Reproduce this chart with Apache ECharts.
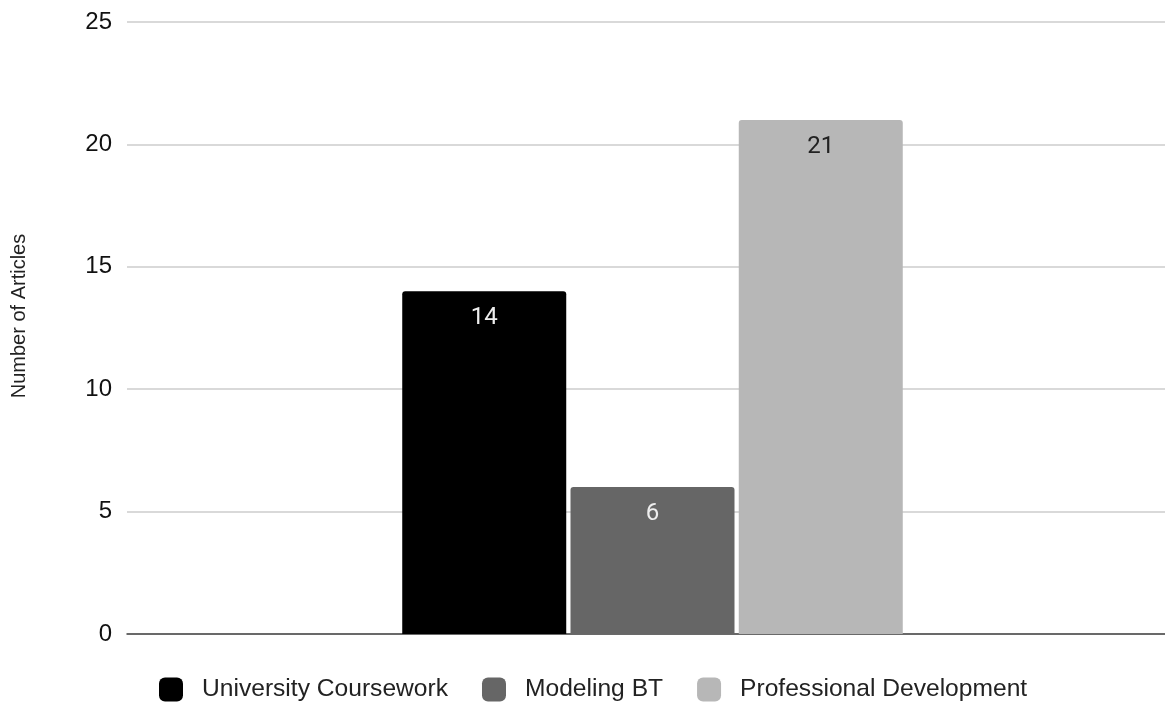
<!DOCTYPE html>
<html><head><meta charset="utf-8">
<script src="https://cdn.jsdelivr.net/npm/echarts@6/dist/echarts.min.js"></script>
<style>html,body{margin:0;padding:0;background:#fff}#c{width:1165px;height:702px}</style>
</head><body><div id="c"></div>
<script>
const categories = [''];
const seriesNames = ['University Coursework', 'Modeling BT', 'Professional Development'];
const seriesValues = [[14], [6], [21]];
const seriesColors = ['#000000', '#666666', '#b7b7b7'];
const labelColors = ['#eeeeee', '#eeeeee', '#222222'];
const yTicks = { min: 0, max: 25, interval: 5 };

const chart = echarts.init(document.getElementById('c'), null, { renderer: 'canvas' });
chart.setOption({
  animation: false,
  backgroundColor: '#fff',
  grid: { left: 127, width: 1051, top: 22, bottom: 68, containLabel: false, outerBoundsMode: 'none' },
  legend: {
    top: 672, left: 154,
    itemWidth: 24, itemHeight: 24, itemGap: 34,
    icon: 'roundRect',
    textStyle: { fontFamily: 'Liberation Sans, Arial', fontSize: 24.6, color: '#222', padding: [0, 0, 0, 14] },
    data: seriesNames
  },
  xAxis: {
    type: 'category', data: categories,
    axisLine: { lineStyle: { color: '#444', width: 1.5 } },
    axisTick: { show: false }, axisLabel: { show: false }
  },
  yAxis: {
    type: 'value', min: yTicks.min, max: yTicks.max, interval: yTicks.interval,
    name: 'Number of Articles', nameLocation: 'middle', nameGap: 98, nameRotate: 90,
    nameTextStyle: { fontFamily: 'Liberation Sans, Arial', fontSize: 20, color: '#222', padding: [0, 0, 0, 24] },
    axisLabel: { fontFamily: 'Liberation Sans, Arial', fontSize: 24, color: '#111', margin: 15 },
    splitLine: { lineStyle: { color: '#cccccc', width: 1.5 } },
    axisLine: { show: false }, axisTick: { show: false }
  },
  series: seriesNames.map((n, i) => ({
    name: n, type: 'bar', data: seriesValues[i],
    barWidth: 164, barGap: '2.6%',
    itemStyle: { color: seriesColors[i], borderRadius: [3, 3, 0, 0] },
    label: { show: true, position: 'insideTop', distance: 15, fontFamily: 'Roboto', fontSize: 24, color: labelColors[i] }
  }))
});
</script></body></html>
